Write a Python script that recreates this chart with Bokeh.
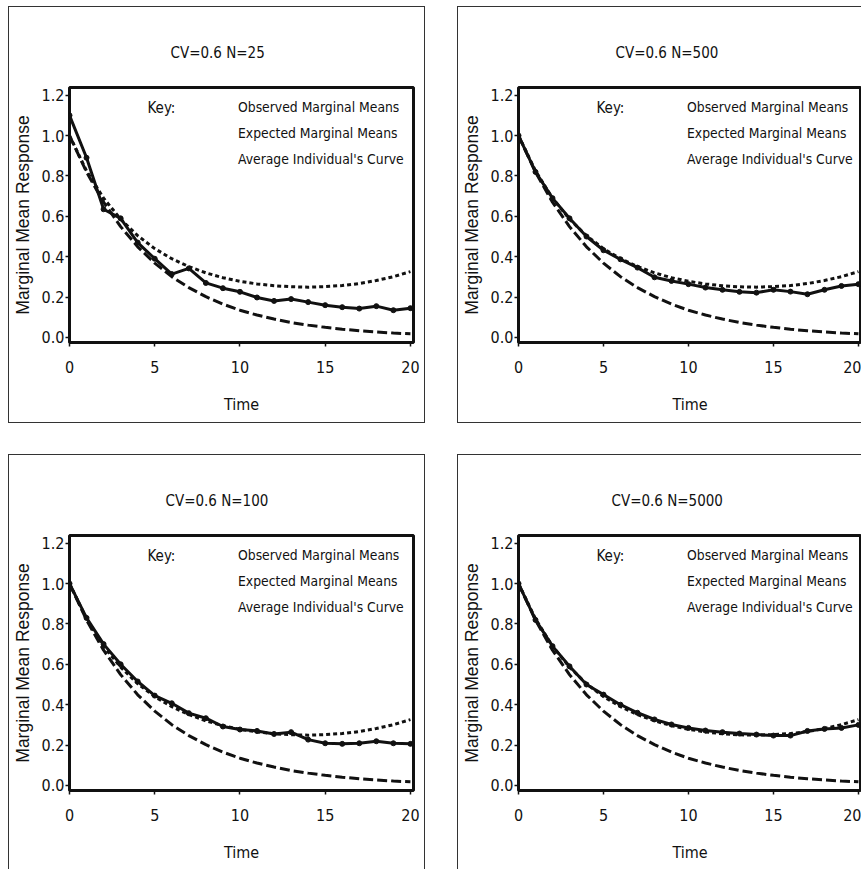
from bokeh.plotting import figure
from bokeh.models import Legend, LegendItem, Label, FixedTicker, Range1d, Title
from bokeh.layouts import column, row
from bokeh.embed import file_html
from bokeh.resources import INLINE

# ---------------- data ----------------
time = list(range(21))
expected_means = [1.00, 0.825, 0.69, 0.586, 0.504, 0.44, 0.39, 0.351, 0.32, 0.296, 0.278,
                  0.265, 0.256, 0.251, 0.249, 0.252, 0.257, 0.267, 0.282, 0.301, 0.326]
average_curve = [1.00, 0.819, 0.67, 0.549, 0.449, 0.368, 0.301, 0.247, 0.202, 0.165, 0.135,
                 0.111, 0.091, 0.074, 0.061, 0.050, 0.041, 0.033, 0.027, 0.022, 0.018]
observed_n25 = [1.10, 0.89, 0.635, 0.59, 0.47, 0.39, 0.314, 0.342, 0.27, 0.244, 0.226,
                0.198, 0.181, 0.19, 0.175, 0.16, 0.15, 0.143, 0.155, 0.135, 0.145]
observed_n500 = [1.00, 0.82, 0.69, 0.59, 0.50, 0.432, 0.387, 0.346, 0.298, 0.28, 0.264,
                 0.247, 0.236, 0.226, 0.222, 0.236, 0.227, 0.214, 0.236, 0.255, 0.264]
observed_n100 = [1.00, 0.83, 0.70, 0.60, 0.515, 0.445, 0.407, 0.358, 0.333, 0.292, 0.277,
                 0.27, 0.255, 0.264, 0.227, 0.209, 0.206, 0.209, 0.219, 0.209, 0.206]
observed_n5000 = [1.00, 0.82, 0.69, 0.59, 0.50, 0.45, 0.40, 0.36, 0.327, 0.302, 0.285,
                  0.272, 0.264, 0.257, 0.252, 0.247, 0.247, 0.27, 0.28, 0.285, 0.30]
panel_titles = ["CV=0.6 N=25", "CV=0.6 N=500", "CV=0.6 N=100", "CV=0.6 N=5000"]
x_ticks = [0, 5, 10, 15, 20]
y_ticks = [0.0, 0.2, 0.4, 0.6, 0.8, 1.0, 1.2]
y_tick_labels = ["0.0", "0.2", "0.4", "0.6", "0.8", "1.0", "1.2"]
legend_labels = ["Observed Marginal Means", "Expected Marginal Means", "Average Individual's Curve"]
x_label = "Time"
y_label = "Marginal Mean Response"
key_text = "Key:"

NARROW = "DejaVu Sans Condensed, Liberation Sans"
REG = "Liberation Sans"
INK = "#111111"


def make_panel(title, observed, width, height, bl, br, bt, bb, margin, title_offset):
    p = figure(width=width, height=height, output_backend="svg", toolbar_location=None, tools="",
               x_range=Range1d(0, 20.18), y_range=Range1d(-0.025, 1.238),
               min_border_left=bl, min_border_right=br, min_border_top=bt, min_border_bottom=bb,
               margin=margin, styles={"outline": "1.5px solid #333333"})
    p.background_fill_color = "white"
    p.border_fill_color = "white"
    p.outline_line_color = INK
    p.outline_line_width = 3
    p.xgrid.visible = False
    p.ygrid.visible = False

    p.add_layout(Title(text=title, align="left", offset=title_offset, standoff=51,
                       text_font=NARROW, text_font_size="15px", text_font_style="normal",
                       text_color=INK), "above")

    for ax in (p.xaxis[0], p.yaxis[0]):
        ax.axis_line_color = None
        ax.major_tick_line_color = INK
        ax.major_tick_line_width = 1.5
        ax.major_tick_in = 0
        ax.major_tick_out = 4
        ax.minor_tick_line_color = None
        ax.major_label_text_font = NARROW
        ax.major_label_text_font_size = "16px"
        ax.major_label_text_color = INK
        ax.axis_label_text_font_style = "normal"
        ax.axis_label_text_color = INK

    p.xaxis.ticker = FixedTicker(ticks=x_ticks)
    p.xaxis.major_label_standoff = 14
    p.xaxis.axis_label = x_label
    p.xaxis.axis_label_text_font = NARROW
    p.xaxis.axis_label_text_font_size = "16px"
    p.xaxis.axis_label_standoff = 19

    p.yaxis.ticker = FixedTicker(ticks=y_ticks)
    p.yaxis.major_label_overrides = {t: s for t, s in zip(y_ticks, y_tick_labels)}
    p.yaxis.major_label_standoff = 1
    p.yaxis.axis_label = y_label
    p.yaxis.axis_label_text_font = REG
    p.yaxis.axis_label_text_font_size = "17.5px"
    p.yaxis.axis_label_standoff = 6

    # data curves
    p.line(time, expected_means, line_color=INK, line_width=3, line_dash="4 3")
    p.line(time, average_curve, line_color=INK, line_width=3, line_dash="10 4")
    p.line(time, observed, line_color=INK, line_width=3)
    p.scatter(time, observed, size=5, color=INK)

    # legend proxies (thin styles as in the key)
    r_obs_l = p.line(x=[], y=[], line_color=INK, line_width=2.5)
    r_obs_m = p.scatter(x=[], y=[], size=6, color=INK)
    r_exp = p.line(x=[], y=[], line_color=INK, line_width=1, line_dash="3 2")
    r_avg = p.line(x=[], y=[], line_color=INK, line_width=1, line_dash="8 4")
    legend = Legend(items=[LegendItem(label=legend_labels[0], renderers=[r_obs_l, r_obs_m]),
                           LegendItem(label=legend_labels[1], renderers=[r_exp]),
                           LegendItem(label=legend_labels[2], renderers=[r_avg])],
                    location=(124, 170), padding=0, margin=0, spacing=0,
                    glyph_width=38, glyph_height=26, label_height=26, label_standoff=7,
                    label_text_font=NARROW, label_text_font_size="13.8px", label_text_color=INK,
                    border_line_color=None, background_fill_alpha=0)
    p.add_layout(legend)

    p.add_layout(Label(x=78, y=235, x_units="screen", y_units="screen", text=key_text,
                       text_font=NARROW, text_font_size="15px", text_color=INK,
                       text_align="left", text_baseline="middle"))
    return p


p1 = make_panel(panel_titles[0], observed_n25, 415, 415, 59, 11, 80, 80, (7, 0, 0, 9), 101)
p2 = make_panel(panel_titles[1], observed_n500, 403, 415, 58, 0, 80, 80, (7, 0, 0, 34), 97)
p3 = make_panel(panel_titles[2], observed_n100, 415, 414, 59, 11, 80, 79, (33, 0, 0, 9), 96)
p4 = make_panel(panel_titles[3], observed_n5000, 403, 414, 58, 0, 80, 79, (33, 0, 0, 34), 93)

layout = column(row(p1, p2), row(p3, p4))
open("out.html", "w").write(file_html(layout, INLINE))
